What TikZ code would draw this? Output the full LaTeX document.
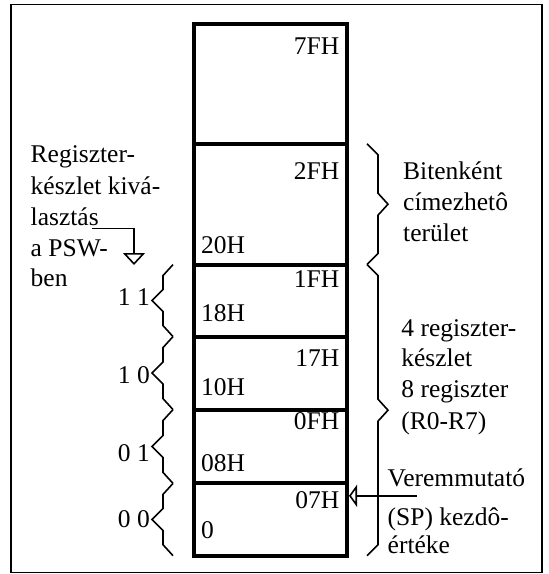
\documentclass[tikz,border=0pt]{standalone}
\usepackage{fontspec}
\setmainfont{Liberation Serif}
\usetikzlibrary{arrows.meta}
\begin{document}
\begin{tikzpicture}[x=1pt,y=-1pt,
  txt/.style={inner sep=0pt, font=\fontsize{25.5}{31.2}\selectfont},
  cell/.style={draw, line width=4pt, inner sep=0pt, minimum width=153.2pt},
  bracepath/.style={line width=1.6pt, line join=miter},
  pointer/.style={line width=1.6pt, -{Triangle[open, length=#1, width=22pt]}},
  pointer/.default=12pt,
  frame/.style={line width=1.5pt}]
\useasboundingbox (0,0) rectangle (549,574);
\draw[frame] (11,4.7) rectangle (542,572.5);

% memory cells
\node[cell, minimum height=120pt]   (c7) at (270.4,84)    {};
\node[cell, minimum height=120.6pt] (c2) at (270.4,204.3) {};
\node[cell, minimum height=72pt]    (b3) at (270.4,300.6) {};
\node[cell, minimum height=73pt]    (b2) at (270.4,373.1) {};
\node[cell, minimum height=73.8pt]  (b1) at (270.4,446.5) {};
\node[cell, minimum height=72.3pt]  (b0) at (270.4,519.55) {};

% addresses
\node[txt, anchor=base east] (a7f) at (339.5,54.8)  {7FH};
\node[txt, anchor=base east] (a2f) at (339.5,179.4) {2FH};
\node[txt, anchor=base west] (a20) at (201,253.5)   {20H};
\node[txt, anchor=base east] (a1f) at (339.5,287.7) {1FH};
\node[txt, anchor=base west] (a18) at (201,321)     {18H};
\node[txt, anchor=base east] (a17) at (339.5,366.6) {17H};
\node[txt, anchor=base west] (a10) at (201,395.5)   {10H};
\node[txt, anchor=base east] (a0f) at (339.5,429.8) {0FH};
\node[txt, anchor=base west] (a08) at (201,471)     {08H};
\node[txt, anchor=base east] (a07) at (339.5,508)   {07H};
\node[txt, anchor=base west] (a00) at (201,538.5)   {0};

% left text
\node[txt, anchor=base west] (l1) at (30.5,162.9) {Regiszter-};
\node[txt, anchor=base west] (l2) at (30.5,194.1) {készlet kivá-};
\node[txt, anchor=base west] (l3) at (30.5,225.3) {lasztás};
\node[txt, anchor=base west] (l4) at (30.5,256.5) {a PSW-};
\node[txt, anchor=base west] (l5) at (30.5,286.5) {ben};

% PSW pointer
\coordinate (pswstart) at (92,228.5);
\coordinate (pswtip) at (134,265);
\draw[pointer] (pswstart) -| (pswtip);

% left zigzag braces
\foreach \ya/\yb in {264.6/336.6, 336.6/409.6, 409.6/483.4, 483.4/555.7}{
  \pgfmathsetmacro{\ym}{(\ya+\yb)/2}
  \draw[bracepath] (173,\ya) -- (163,\ya+11) -- (163,\ym-11) -- (152,\ym)
    -- (163,\ym+11) -- (163,\yb-11) -- (173,\yb);
}
\node[txt, anchor=base east] (s3) at (150,305)   {1 1};
\node[txt, anchor=base east] (s2) at (150,383)   {1 0};
\node[txt, anchor=base east] (s1) at (150,461.5) {0 1};
\node[txt, anchor=base east] (s0) at (150,527)   {0 0};

% right braces
\draw[bracepath] (367,143.8) -- (378,154.8) -- (378,193.2) -- (388,204.2)
  -- (378,215.2) -- (378,253.6) -- (367,264.6);
\draw[bracepath] (367,264.6) -- (378,275.6) -- (378,399.2) -- (388,410.2)
  -- (378,421.2) -- (378,544.7) -- (367,555.7);

% right text
\node[txt, anchor=base west] (r1) at (403,179.4) {Bitenként};
\node[txt, anchor=base west] (r2) at (403,210.6) {címezhetô};
\node[txt, anchor=base west] (r3) at (403,241.8) {terület};
\node[txt, anchor=base west] (r4) at (401.2,336.6) {4 regiszter-};
\node[txt, anchor=base west] (r5) at (401.2,366.6) {készlet};
\node[txt, anchor=base west] (r6) at (401.2,397.8) {8 regiszter};
\node[txt, anchor=base west] (r7) at (401.2,429.1) {(R0-R7)};
\node[txt, anchor=base west] (v1) at (387.5,486)   {Veremmutató};
\node[txt, anchor=base west] (v2) at (387.5,525)   {(SP) kezdô-};
\node[txt, anchor=base west] (v3) at (387.5,553.5) {értéke};

% SP pointer
\coordinate (spfrom) at (417,495.8);
\draw[pointer=8pt] (spfrom) -- (spfrom -| b0.east);
\end{tikzpicture}
\end{document}
